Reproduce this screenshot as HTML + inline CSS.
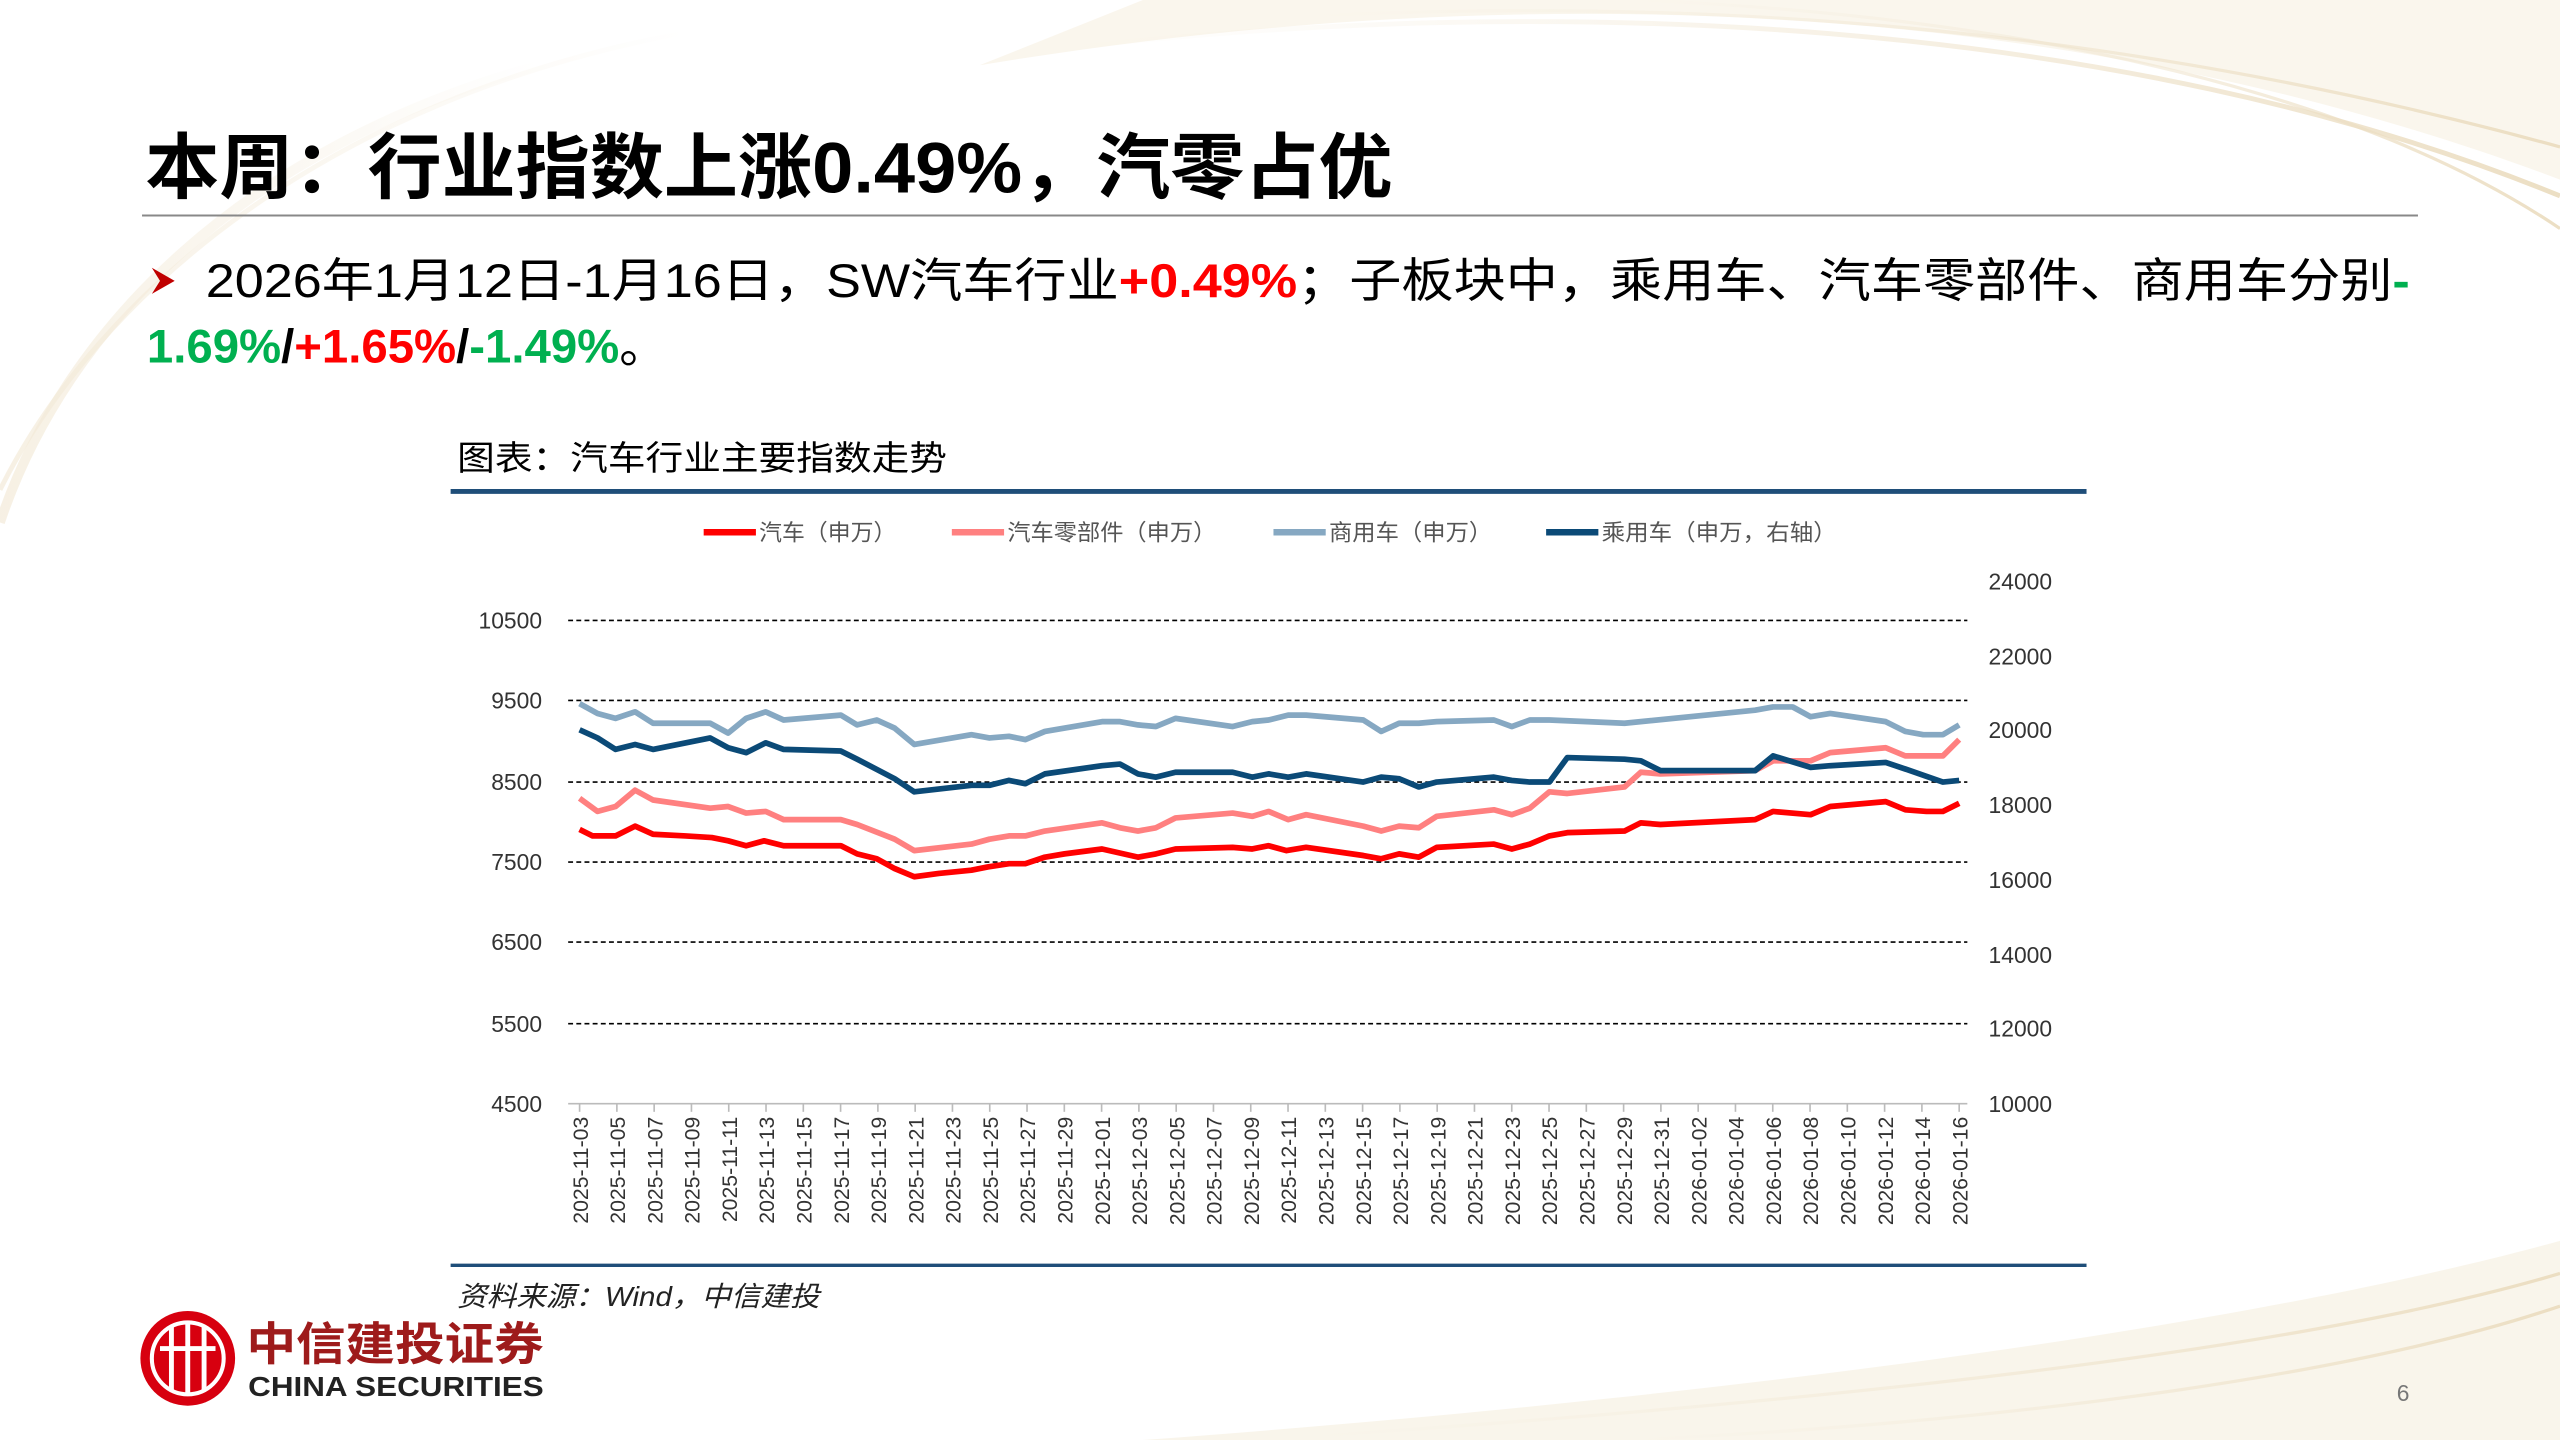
<!DOCTYPE html>
<html><head><meta charset="utf-8"><style>
html,body{margin:0;padding:0;background:#fff;}
svg{display:block;}
text{font-family:"Liberation Sans","Noto Sans CJK SC",sans-serif;}
</style></head><body>
<svg width="2560" height="1440" viewBox="0 0 1568 882" xmlns="http://www.w3.org/2000/svg">
<defs>
<linearGradient id="g1" x1="0" y1="0" x2="1" y2="0"><stop offset="0" stop-color="#f3ead8" stop-opacity="0"/><stop offset="1" stop-color="#eadbbd" stop-opacity="0.9"/></linearGradient>
<linearGradient id="g2" x1="0" y1="0" x2="1" y2="0"><stop offset="0" stop-color="#f3ead8" stop-opacity="0.7"/><stop offset="1" stop-color="#f3ead8" stop-opacity="0"/></linearGradient>
</defs>
<rect width="1568" height="882" fill="#fff"/>
<path d="M600 40 C900 -10 1250 -10 1568 110 L1568 0 L700 0 Z" fill="#f8f2e6" opacity="0.7"/>
<path d="M650 30 C950 -5 1300 10 1568 120" stroke="url(#g1)" stroke-width="3" fill="none"/>
<path d="M800 10 C1100 -5 1350 30 1568 90" stroke="url(#g1)" stroke-width="2" fill="none"/>
<path d="M1000 0 C1250 10 1450 60 1568 140" stroke="url(#g1)" stroke-width="2" fill="none"/>
<path d="M0 320 C40 200 150 90 330 40" stroke="url(#g2)" stroke-width="6" fill="none"/>
<path d="M0 300 C60 180 200 60 420 20" stroke="url(#g2)" stroke-width="3" fill="none"/>
<path d="M700 882 C1000 860 1350 820 1568 760 L1568 882 Z" fill="#f8f2e6" opacity="0.8"/>
<path d="M800 880 C1100 860 1400 830 1568 780" stroke="url(#g1)" stroke-width="2" fill="none"/>
<path d="M1000 882 C1250 870 1450 840 1568 800" stroke="url(#g1)" stroke-width="2" fill="none"/>

<text x="89" y="118" font-size="44" font-weight="bold" fill="#000" textLength="764" lengthAdjust="spacingAndGlyphs">本周：行业指数上涨0.49%，汽零占优</text>
<line x1="87" y1="132" x2="1481" y2="132" stroke="#888" stroke-width="1.2"/>
<path d="M93 164 L107 172 L93 180 L98 172 Z" fill="#c00000"/>
<text x="126" y="182" font-size="29" fill="#000" textLength="1350" lengthAdjust="spacingAndGlyphs">2026年1月12日-1月16日，SW汽车行业<tspan fill="#ff0000" font-weight="bold">+0.49%</tspan>；子板块中，乘用车、汽车零部件、商用车分别<tspan fill="#00b050" font-weight="bold">-</tspan></text>
<text x="90" y="222" font-size="29" font-weight="bold"><tspan fill="#00b050">1.69%</tspan><tspan fill="#000">/</tspan><tspan fill="#ff0000">+1.65%</tspan><tspan fill="#000">/</tspan><tspan fill="#00b050">-1.49%</tspan><tspan fill="#000" font-weight="normal">。</tspan></text>

<text x="280" y="288" font-size="21" fill="#000" textLength="300" lengthAdjust="spacingAndGlyphs">图表：汽车行业主要指数走势</text>
<line x1="276" y1="301" x2="1278" y2="301" stroke="#1f4e79" stroke-width="3"/>

<g font-size="14" fill="#555">
<line x1="431" y1="326" x2="463" y2="326" stroke="#ff0000" stroke-width="4"/><text x="465" y="331" textLength="84" lengthAdjust="spacingAndGlyphs">汽车（申万）</text>
<line x1="583" y1="326" x2="615" y2="326" stroke="#ff8080" stroke-width="4"/><text x="617" y="331" textLength="128" lengthAdjust="spacingAndGlyphs">汽车零部件（申万）</text>
<line x1="780" y1="326" x2="812" y2="326" stroke="#86a8c2" stroke-width="4"/><text x="814" y="331" textLength="100" lengthAdjust="spacingAndGlyphs">商用车（申万）</text>
<line x1="947" y1="326" x2="979" y2="326" stroke="#0b4a77" stroke-width="4"/><text x="981" y="331" textLength="144" lengthAdjust="spacingAndGlyphs">乘用车（申万，右轴）</text>
</g>

<g stroke="#000" stroke-width="1" stroke-dasharray="3,2">
<line x1="348" y1="380" x2="1205" y2="380"/>
<line x1="348" y1="429" x2="1205" y2="429"/>
<line x1="348" y1="479" x2="1205" y2="479"/>
<line x1="348" y1="528" x2="1205" y2="528"/>
<line x1="348" y1="577" x2="1205" y2="577"/>
<line x1="348" y1="627" x2="1205" y2="627"/>
</g>
<line x1="348" y1="676" x2="1205" y2="676" stroke="#bbb" stroke-width="1"/>
<g font-size="14" fill="#333" text-anchor="end">
<text x="332" y="385">10500</text><text x="332" y="434">9500</text><text x="332" y="484">8500</text>
<text x="332" y="533">7500</text><text x="332" y="582">6500</text><text x="332" y="632">5500</text><text x="332" y="681">4500</text>
</g>
<g font-size="14" fill="#333">
<text x="1218" y="361">24000</text><text x="1218" y="407">22000</text><text x="1218" y="452">20000</text>
<text x="1218" y="498">18000</text><text x="1218" y="544">16000</text><text x="1218" y="590">14000</text>
<text x="1218" y="635">12000</text><text x="1218" y="681">10000</text>
</g>
<g id="xl" font-size="13" fill="#333" text-anchor="end"></g>

<g fill="none" stroke-width="3.5" stroke-linejoin="round">
<polyline stroke="#86a8c2" points="355,431 366,437 377,440 389,436 400,443 435,443 446,449 457,440 469,436 480,441 515,438 525,444 537,441 548,446 560,456 595,450 606,452 618,451 628,453 640,448 675,442 686,442 697,444 708,445 720,440 755,445 767,442 777,441 789,438 800,438 835,441 846,448 857,443 869,443 880,442 915,441 926,445 937,441 949,441 995,443 1075,435 1086,433 1098,433 1109,439 1121,437 1155,442 1167,448 1178,450 1190,450 1200,444"/>
<polyline stroke="#ff8080" points="355,489 366,497 377,494 389,484 400,490 435,495 446,494 457,498 469,497 480,502 515,502 525,505 548,514 560,521 595,517 606,514 618,512 628,512 640,509 675,504 686,507 697,509 708,507 720,501 755,498 767,500 777,497 789,502 800,499 835,506 846,509 857,506 869,507 880,500 915,496 926,499 937,495 949,485 960,486 995,482 1005,473 1017,474 1075,472 1086,466 1109,466 1121,461 1155,458 1167,463 1178,463 1190,463 1200,453"/>
<polyline stroke="#0b4a77" points="355,447 366,452 377,459 389,456 400,459 435,452 446,458 457,461 469,455 480,459 515,460 525,465 548,477 560,485 595,481 606,481 618,478 628,480 640,474 675,469 686,468 697,474 708,476 720,473 755,473 767,476 777,474 789,476 800,474 835,479 846,476 857,477 869,482 880,479 915,476 926,478 937,479 949,479 960,464 995,465 1005,466 1017,472 1075,472 1086,463 1109,470 1121,469 1155,467 1167,471 1190,479 1200,478"/>
<polyline stroke="#ff0000" points="355,508 363,512 377,512 389,506 400,511 420,512 436,513 446,515 457,518 468,515 480,518 515,518 525,523 537,526 548,532 560,537 575,535 595,533 605,531 618,529 628,529 640,525 652,523 675,520 697,525 708,523 720,520 755,519 767,520 777,518 788,521 800,519 835,524 846,526 857,523 869,525 880,519 915,517 926,520 937,517 949,512 960,510 995,509 1005,504 1017,505 1075,502 1086,497 1109,499 1121,494 1155,491 1167,496 1180,497 1190,497 1200,492"/>
</g>

<line x1="276" y1="775" x2="1278" y2="775" stroke="#1f4e79" stroke-width="2"/>
<text x="280" y="800" font-size="17" font-style="italic" fill="#222" textLength="222" lengthAdjust="spacingAndGlyphs">资料来源：Wind，中信建投</text>

<circle cx="115" cy="832" r="29" fill="#d7000f"/>
<circle cx="115" cy="832" r="22" fill="none" stroke="#fff" stroke-width="2.5"/>
<g stroke="#fff" stroke-width="3"><line x1="105" y1="812" x2="105" y2="852"/><line x1="115" y1="810" x2="115" y2="854"/><line x1="125" y1="812" x2="125" y2="852"/><line x1="98" y1="826" x2="132" y2="826"/></g>
<text x="151" y="833" font-size="28" font-weight="bold" fill="#9e1b1b" textLength="182" lengthAdjust="spacingAndGlyphs">中信建投证券</text>
<text x="152" y="855" font-size="17" font-weight="bold" fill="#222" textLength="181" lengthAdjust="spacingAndGlyphs">CHINA SECURITIES</text>
<text x="1468" y="858" font-size="14" fill="#777">6</text>
</svg>
<script>
(function(){var g=document.getElementById('xl');var ns='http://www.w3.org/2000/svg';
var d=new Date(Date.UTC(2025,10,3));
for(var i=0;i<38;i++){var x=355+i*(845/37);
var s=d.getUTCFullYear()+'-'+('0'+(d.getUTCMonth()+1)).slice(-2)+'-'+('0'+d.getUTCDate()).slice(-2);
var t=document.createElementNS(ns,'text');t.setAttribute('transform','translate('+(x+5)+',684) rotate(-90)');t.textContent=s;g.appendChild(t);
var l=document.createElementNS(ns,'line');l.setAttribute('x1',x);l.setAttribute('x2',x);l.setAttribute('y1',676);l.setAttribute('y2',681);l.setAttribute('stroke','#bbb');g.parentNode.appendChild(l);
d=new Date(d.getTime()+2*86400000);}})();
</script>
</body></html>
